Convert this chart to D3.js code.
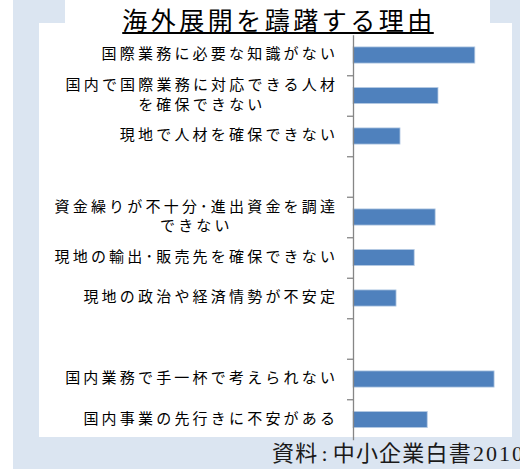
<!DOCTYPE html>
<html>
<head>
<meta charset="utf-8">
<script src="https://cdn.jsdelivr.net/npm/d3@7"></script>
<style>
  body { margin: 0; background: #fff; }
  svg { display: block; }
</style>
</head>
<body>
<div id="chart"></div>
<script>
// 海外展開を躊躇する理由 (資料:中小企業白書2010)
// empty strings are the gaps between the groups of reasons
const categories = [
    '国際業務に必要な知識がない',
    '国内で国際業務に対応できる人材\nを確保できない',
    '現地で人材を確保できない',
    '',
    '資金繰りが不十分･進出資金を調達\nできない',
    '現地の輸出･販売先を確保できない',
    '現地の政治や経済情勢が不安定',
    '',
    '国内業務で手一杯で考えられない',
    '国内事業の先行きに不安がある'
];
// share of firms (%)
const values = [21.5, 15.0, 8.3, null, 14.5, 10.8, 7.6, null, 24.9, 13.1];

const width = 520, height = 469;
const axisX = 353;
const plotTop = 34.75, plotBottom = 439.75;
const labelSpacing = 3.2;

const svg = d3.select('#chart')
    .append('svg')
    .attr('width', width)
    .attr('height', height);

// background frame: blue sheet with white chart area on top
svg.append('rect')
    .attr('x', 13).attr('y', 0)
    .attr('width', width - 13).attr('height', height)
    .attr('fill', '#dbe5f1');
svg.append('rect')
    .attr('x', 65).attr('y', 0)
    .attr('width', 425).attr('height', 24)
    .attr('fill', '#fff');
svg.append('rect')
    .attr('x', 39).attr('y', 23)
    .attr('width', 473).attr('height', 414)
    .attr('fill', '#fff');

// Title with underline
const title = svg.append('text')
    .attr('x', 279)
    .attr('y', 29.5)
    .attr('text-anchor', 'middle')
    .style('font-family', '"Noto Sans CJK JP", sans-serif')
    .style('font-size', '25px')
    .style('letter-spacing', '3.5px')
    .attr('fill', '#000')
    .text('海外展開を躊躇する理由');
const tb = title.node().getBBox();
svg.append('line')
    .attr('x1', tb.x).attr('x2', tb.x + tb.width - 2)
    .attr('y1', 33).attr('y2', 33)
    .attr('stroke', '#000')
    .attr('stroke-width', 2);

// Scales
const y = d3.scaleBand()
    .domain(d3.range(categories.length))
    .range([plotTop, plotBottom])
    .paddingInner(0.6)
    .paddingOuter(0.3);
const yEdge = d3.scaleLinear()
    .domain([0, categories.length])
    .range([plotTop, plotBottom]);
const x = d3.scaleLinear()
    .domain([0, 30])
    .range([axisX, axisX + 170]);

// Bars
svg.append('g')
    .selectAll('rect')
    .data(values.map((v, i) => ({v: v, i: i})).filter(d => d.v != null))
    .enter()
    .append('rect')
    .attr('x', x(0))
    .attr('y', d => y(d.i))
    .attr('width', d => x(d.v) - x(0))
    .attr('height', y.bandwidth())
    .attr('fill', '#4f81bd')
    .attr('stroke', '#b9cde5')
    .attr('stroke-width', 0.8);

// Category axis, ticks sit between categories
const axis = svg.append('g')
    .attr('transform', `translate(${axisX},0)`)
    .call(d3.axisLeft(yEdge)
        .tickValues(d3.range(1, categories.length))
        .tickSize(6)
        .tickSizeOuter(0)
        .tickFormat(''));
axis.select('.domain').attr('stroke', '#868686').attr('stroke-width', 1.3);
axis.selectAll('.tick line').attr('stroke', '#868686').attr('stroke-width', 1.3);

// Category labels (multi-line labels are centred on each other)
const lineH = 19.5;
const labels = svg.append('g')
    .selectAll('text')
    .data(categories.map((c, i) => ({lines: c ? c.split('\n') : [], i: i})))
    .enter()
    .append('text')
    .style('font-family', '"Noto Sans CJK JP", sans-serif')
    .style('font-size', '15px')
    .style('letter-spacing', labelSpacing + 'px')
    .attr('fill', '#000');

labels.each(function(d) {
    const t = d3.select(this);
    const cy = y(d.i) + y.bandwidth() / 2 - 1;
    const n = d.lines.length;
    d.lines.forEach((line, k) => {
        t.append('tspan')
            .attr('y', cy + (k - (n - 1) / 2) * lineH)
            .attr('dy', '0.36em')
            .text(line);
    });
});
// right-align each label block, centre its lines within the block
labels.each(function(d) {
    const spans = d3.select(this).selectAll('tspan');
    const widths = spans.nodes().map(s => s.getComputedTextLength());
    const maxW = d3.max(widths) || 0;
    const right = 335 + labelSpacing;
    spans.attr('x', (s, k) => right - maxW / 2 - widths[k] / 2);
});

// Source note
const source = svg.append('text')
    .attr('x', 272)
    .attr('y', 461)
    .style('font-family', '"Liberation Serif", "Noto Sans CJK JP", serif')
    .style('font-size', '22px')
    .style('letter-spacing', '1.2px')
    .attr('fill', '#1a1a1a');
source.append('tspan').text('資料');
source.append('tspan').attr('dx', 3).text(':');
source.append('tspan').attr('dx', 4).text('中小企業白書');
source.append('tspan').attr('dx', 1).style('letter-spacing', '2px').text('2010');
</script>
</body>
</html>
